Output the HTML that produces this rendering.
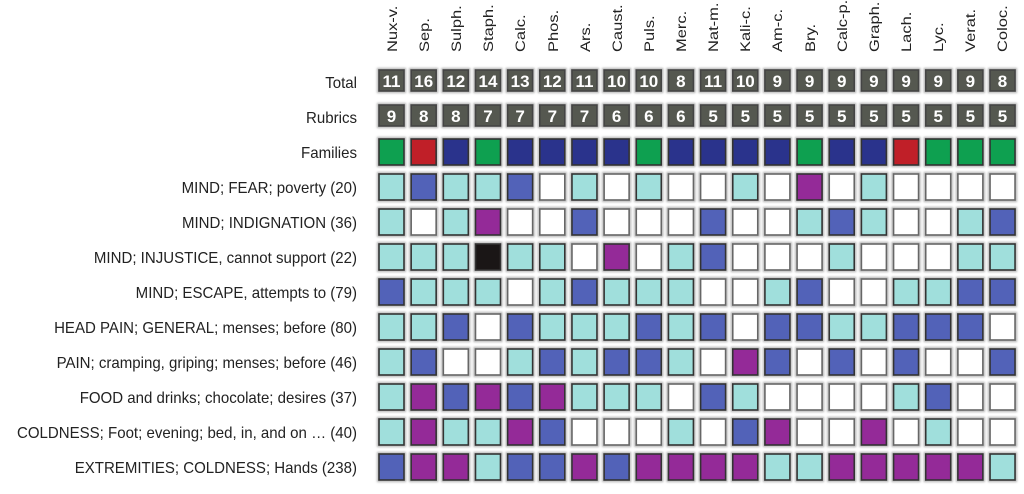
<!DOCTYPE html>
<html><head><meta charset="utf-8"><style>
html,body{margin:0;padding:0;background:#fff;}
svg{display:block;font-family:"Liberation Sans",sans-serif;}
</style></head><body>
<svg id="s" width="1024" height="494" viewBox="0 0 1024 494" xmlns="http://www.w3.org/2000/svg">
<defs><filter id="bl" x="-20%" y="-20%" width="140%" height="140%"><feGaussianBlur stdDeviation="1"/></filter></defs>
<g id="cells"></g>
<g font-size="16" fill="#222" text-anchor="end" transform="translate(357,0) scale(0.94,1)">
<text x="0" y="88">Total</text>
<text x="0" y="123">Rubrics</text>
<text x="0" y="158">Families</text>
<text x="0" y="193">MIND; FEAR; poverty (20)</text>
<text x="0" y="228">MIND; INDIGNATION (36)</text>
<text x="0" y="263">MIND; INJUSTICE, cannot support (22)</text>
<text x="0" y="298">MIND; ESCAPE, attempts to (79)</text>
<text x="0" y="333">HEAD PAIN; GENERAL; menses; before (80)</text>
<text x="0" y="368">PAIN; cramping, griping; menses; before (46)</text>
<text x="0" y="403">FOOD and drinks; chocolate; desires (37)</text>
<text x="0" y="438">COLDNESS; Foot; evening; bed, in, and on … (40)</text>
<text x="0" y="473">EXTREMITIES; COLDNESS; Hands (238)</text>
</g>
<g font-size="16.5" fill="#222">
<text transform="translate(397,52) rotate(-90) scale(1,0.84)">Nux-v.</text>
<text transform="translate(429,52) rotate(-90) scale(1,0.84)">Sep.</text>
<text transform="translate(461,52) rotate(-90) scale(1,0.84)">Sulph.</text>
<text transform="translate(493,52) rotate(-90) scale(1,0.84)">Staph.</text>
<text transform="translate(525,52) rotate(-90) scale(1,0.84)">Calc.</text>
<text transform="translate(558,52) rotate(-90) scale(1,0.84)">Phos.</text>
<text transform="translate(590,52) rotate(-90) scale(1,0.84)">Ars.</text>
<text transform="translate(622,52) rotate(-90) scale(1,0.84)">Caust.</text>
<text transform="translate(654,52) rotate(-90) scale(1,0.84)">Puls.</text>
<text transform="translate(686,52) rotate(-90) scale(1,0.84)">Merc.</text>
<text transform="translate(718,52) rotate(-90) scale(1,0.84)">Nat-m.</text>
<text transform="translate(750,52) rotate(-90) scale(1,0.84)">Kali-c.</text>
<text transform="translate(782,52) rotate(-90) scale(1,0.84)">Am-c.</text>
<text transform="translate(815,52) rotate(-90) scale(1,0.84)">Bry.</text>
<text transform="translate(847,52) rotate(-90) scale(1,0.84)">Calc-p.</text>
<text transform="translate(879,52) rotate(-90) scale(1,0.84)">Graph.</text>
<text transform="translate(911,52) rotate(-90) scale(1,0.84)">Lach.</text>
<text transform="translate(943,52) rotate(-90) scale(1,0.84)">Lyc.</text>
<text transform="translate(975,52) rotate(-90) scale(1,0.84)">Verat.</text>
<text transform="translate(1007,52) rotate(-90) scale(1,0.84)">Coloc.</text>
</g>
<g id="nums" font-size="17" font-weight="bold" fill="#fff" text-anchor="middle">
<text x="391.5" y="87">11</text><text x="423.7" y="87">16</text><text x="455.8" y="87">12</text><text x="488" y="87">14</text><text x="520.1" y="87">13</text><text x="552.3" y="87">12</text><text x="584.5" y="87">11</text><text x="616.6" y="87">10</text><text x="648.8" y="87">10</text><text x="680.9" y="87">8</text><text x="713.1" y="87">11</text><text x="745.3" y="87">10</text><text x="777.4" y="87">9</text><text x="809.6" y="87">9</text><text x="841.7" y="87">9</text><text x="873.9" y="87">9</text><text x="906.1" y="87">9</text><text x="938.2" y="87">9</text><text x="970.4" y="87">9</text><text x="1002.5" y="87">8</text>
<text x="391.5" y="122">9</text><text x="423.7" y="122">8</text><text x="455.8" y="122">8</text><text x="488" y="122">7</text><text x="520.1" y="122">7</text><text x="552.3" y="122">7</text><text x="584.5" y="122">7</text><text x="616.6" y="122">6</text><text x="648.8" y="122">6</text><text x="680.9" y="122">6</text><text x="713.1" y="122">5</text><text x="745.3" y="122">5</text><text x="777.4" y="122">5</text><text x="809.6" y="122">5</text><text x="841.7" y="122">5</text><text x="873.9" y="122">5</text><text x="906.1" y="122">5</text><text x="938.2" y="122">5</text><text x="970.4" y="122">5</text><text x="1002.5" y="122">5</text>
</g>
</svg>
<script>
(function(){
var C={c:"#a0dfdc",b:"#5262b8",p:"#942a98",w:"#ffffff",k:"#1a1616",n:"#2a338c",g:"#0ea050",r:"#c01f28",d:"#555850"};
var rows=[
"dddddddddddddddddddd",
"dddddddddddddddddddd",
"grngnnnngnnnngnnrggg",
"cbccbwcwcwwcwpwcwwww",
"cwcpwwbwwwbwwcbcwwcb",
"ccckccwpwcbwwwcwwwcc",
"bcccwcbcccwwcbwwccbb",
"ccbwbcccbcbwbbccbbbw",
"cbwwcbcbbcwpbwbwbwwb",
"cpbpbpcccwbcwwwwcbww",
"cpccpbwwwcwbpwwpwcww",
"bppcbbpbppppccpppppc"];
var g=document.getElementById("cells"),h="";
for(var r=0;r<12;r++){
 for(var i=0;i<20;i++){
  var cx=391.5+32.16*i,x=cx-12.5,y,hh;
  var code=rows[r][i];
  if(r==0){y=70;hh=21;}else if(r==1){y=105;hh=21;}
  else{y=139+35*(r-2);hh=26;}
  var col=C[code];
  var st=(code=='w')?"#666":(code=='d'?"#444":"#333");
  h+='<rect x="'+(x-1)+'" y="'+(y-1)+'" width="27" height="'+(hh+2)+'" fill="none" stroke="#aaa" stroke-width="2" filter="url(#bl)"/>';
  h+='<rect x="'+x+'" y="'+y+'" width="25" height="'+hh+'" fill="'+col+'" stroke="'+st+'" stroke-width="1.6"/>';
 }
}
g.innerHTML=h;
})();
</script>
</body></html>
